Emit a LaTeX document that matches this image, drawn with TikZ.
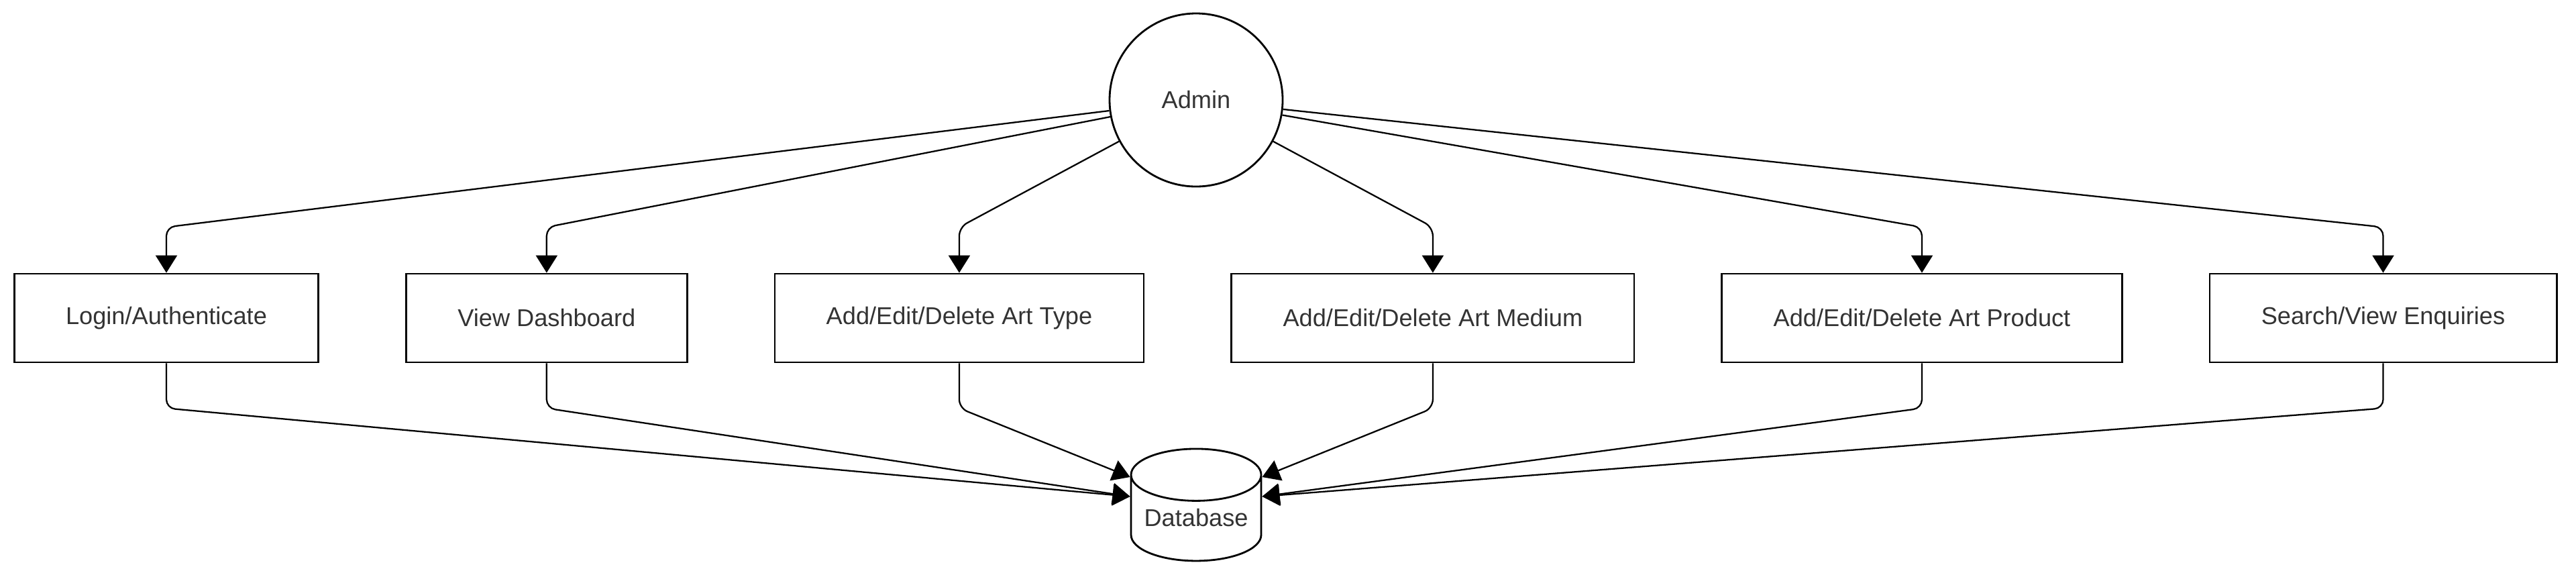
\documentclass[tikz,border=0pt]{standalone}
\usepackage{fontspec}
\setmainfont{Liberation Sans}
\usepackage{tikz}
\usetikzlibrary{arrows.meta,positioning,shapes.geometric,calc}
\definecolor{tekst}{HTML}{333333}

\begin{document}
\begin{tikzpicture}[node distance=1.28cm, auto]
\tikzset{
    %czubek strzalki
    >={Triangle[length=2.6mm,width=3.2mm]},
    strzalka/.style={->,line width=0.65pt,rounded corners=1.3mm},
    %styl NODa
    krok/.style={
           rectangle,
           line width=0.8pt,draw=black,
           inner xsep=7.68mm,
           minimum height=1.32cm,
           text=tekst,
           font=\fontsize{10.3}{12}\selectfont,
           text centered},
    kolo/.style={
           circle,
           line width=0.8pt,draw=black,
           minimum size=2.58cm,
           text=tekst,
           font=\fontsize{10.3}{12}\selectfont,
           text centered},
    baza/.style={
           cylinder, shape border rotate=90,
           aspect=0.5,
           line width=0.8pt,draw=black,
           inner sep=0pt,
           minimum height=1.67cm,
           minimum width=1.94cm,
           text=tekst,
           font=\fontsize{10.3}{12}\selectfont,
           text centered}
}
\useasboundingbox (0,0) rectangle (38.4,-8.59);

%NODy
\node(admin)     [kolo] at (17.83,-1.49)          {Admin};
\node(login)     [krok] at (2.48,-4.74)           {Login/Authenticate};
\node(dash)      [krok,right=of login]            {View Dashboard};
\node(typ)       [krok,right=of dash]             {Add/Edit/Delete Art Type};
\node(medium)    [krok,right=of typ]              {Add/Edit/Delete Art Medium};
\node(produkt)   [krok,right=of medium]           {Add/Edit/Delete Art Product};
\node(szukaj)    [krok,right=of produkt]          {Search/View Enquiries};
\node(db)        [baza] at (17.83,-7.725)         {\raisebox{-1.2mm}[0pt][0pt]{Database}};

%punkty wejscia do bazy
\coordinate (dbL1) at ($(db.west)+(0,.615)$);
\coordinate (dbL2) at ($(db.west)+(0,.325)$);
\coordinate (dbR1) at ($(db.east)+(0,.615)$);
\coordinate (dbR2) at ($(db.east)+(0,.325)$);

%Strzalki od Admina
\draw[strzalka] (admin) -- ($(login.north)+(0,.68)$) -- (login.north);
\draw[strzalka] (admin) -- ($(dash.north)+(0,.68)$) -- (dash.north);
\draw[strzalka] (admin) -- ($(typ.north)+(0,.68)$) -- (typ.north);
\draw[strzalka] (admin) -- ($(medium.north)+(0,.68)$) -- (medium.north);
\draw[strzalka] (admin) -- ($(produkt.north)+(0,.68)$) -- (produkt.north);
\draw[strzalka] (admin) -- ($(szukaj.north)+(0,.68)$) -- (szukaj.north);

%Strzalki do bazy
\draw[strzalka] (login.south) -- ($(login.south)+(0,-.67)$) -- (dbL2);
\draw[strzalka] (dash.south) -- ($(dash.south)+(0,-.67)$) -- (dbL2);
\draw[strzalka] (typ.south) -- ($(typ.south)+(0,-.67)$) -- (dbL1);
\draw[strzalka] (medium.south) -- ($(medium.south)+(0,-.67)$) -- (dbR1);
\draw[strzalka] (produkt.south) -- ($(produkt.south)+(0,-.67)$) -- (dbR2);
\draw[strzalka] (szukaj.south) -- ($(szukaj.south)+(0,-.67)$) -- (dbR2);
\end{tikzpicture}
\end{document}
